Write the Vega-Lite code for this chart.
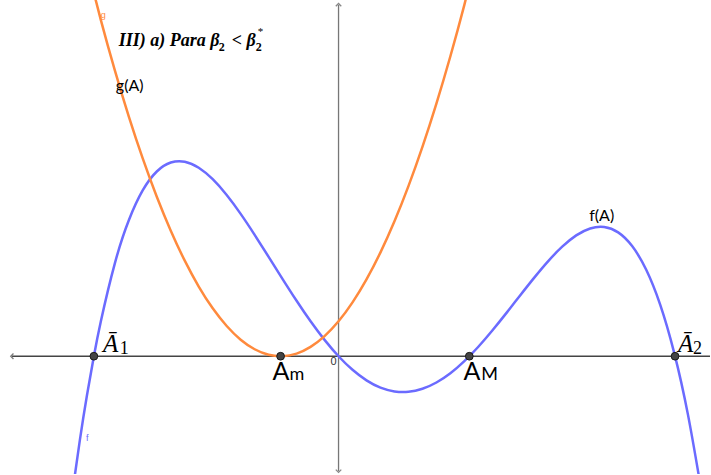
{
  "$schema": "https://vega.github.io/schema/vega-lite/v6.json",
  "width": 711,
  "height": 475,
  "autosize": {"type": "fit", "contains": "padding"},
  "padding": 0,
  "background": "white",
  "config": {"view": {"stroke": null}},
  "datasets": {
    "axes": [
      {"axis": "x", "x": -4.67, "x2": 5.314, "y": 0, "y2": 0},
      {"axis": "y", "x": 0, "x2": 0, "y": -1.643, "y2": 5.03}
    ],
    "ticks": [
      {"axis": "x", "v": -4}, {"axis": "x", "v": -3}, {"axis": "x", "v": -2}, {"axis": "x", "v": -1},
      {"axis": "x", "v": 1}, {"axis": "x", "v": 2}, {"axis": "x", "v": 3}, {"axis": "x", "v": 4}, {"axis": "x", "v": 5},
      {"axis": "y", "v": -1}, {"axis": "y", "v": 1}, {"axis": "y", "v": 2}, {"axis": "y", "v": 3}, {"axis": "y", "v": 4}
    ],
    "arrows": [
      {"dir": "left", "x": -4.67, "y": 0},
      {"dir": "up", "x": 0, "y": 5.03},
      {"dir": "down", "x": 0, "y": -1.643}
    ],
    "curves": [
      {"series": "f", "x": -3.8, "y": -1.899},
      {"series": "f", "x": -3.7, "y": -1.197},
      {"series": "f", "x": -3.6, "y": -0.565},
      {"series": "f", "x": -3.5, "y": 0},
      {"series": "f", "x": -3.4, "y": 0.502},
      {"series": "f", "x": -3.2, "y": 1.33},
      {"series": "f", "x": -3.0, "y": 1.947},
      {"series": "f", "x": -2.8, "y": 2.377},
      {"series": "f", "x": -2.6, "y": 2.645},
      {"series": "f", "x": -2.4, "y": 2.773},
      {"series": "f", "x": -2.2, "y": 2.785},
      {"series": "f", "x": -2.0, "y": 2.698},
      {"series": "f", "x": -1.8, "y": 2.534},
      {"series": "f", "x": -1.6, "y": 2.308},
      {"series": "f", "x": -1.4, "y": 2.038},
      {"series": "f", "x": -1.2, "y": 1.738},
      {"series": "f", "x": -1.0, "y": 1.423},
      {"series": "f", "x": -0.8, "y": 1.105},
      {"series": "f", "x": -0.6, "y": 0.794},
      {"series": "f", "x": -0.4, "y": 0.5},
      {"series": "f", "x": -0.2, "y": 0.234},
      {"series": "f", "x": 0.0, "y": 0},
      {"series": "f", "x": 0.2, "y": -0.194},
      {"series": "f", "x": 0.4, "y": -0.345},
      {"series": "f", "x": 0.6, "y": -0.45},
      {"series": "f", "x": 0.8, "y": -0.504},
      {"series": "f", "x": 1.0, "y": -0.51},
      {"series": "f", "x": 1.2, "y": -0.466},
      {"series": "f", "x": 1.4, "y": -0.376},
      {"series": "f", "x": 1.6, "y": -0.243},
      {"series": "f", "x": 1.8, "y": -0.07},
      {"series": "f", "x": 2.0, "y": 0.136},
      {"series": "f", "x": 2.2, "y": 0.368},
      {"series": "f", "x": 2.4, "y": 0.617},
      {"series": "f", "x": 2.6, "y": 0.873},
      {"series": "f", "x": 2.8, "y": 1.125},
      {"series": "f", "x": 3.0, "y": 1.362},
      {"series": "f", "x": 3.2, "y": 1.568},
      {"series": "f", "x": 3.4, "y": 1.73},
      {"series": "f", "x": 3.6, "y": 1.829},
      {"series": "f", "x": 3.8, "y": 1.85},
      {"series": "f", "x": 4.0, "y": 1.773},
      {"series": "f", "x": 4.2, "y": 1.577},
      {"series": "f", "x": 4.4, "y": 1.241},
      {"series": "f", "x": 4.6, "y": 0.742},
      {"series": "f", "x": 4.8, "y": 0.056},
      {"series": "f", "x": 5.0, "y": -0.843},
      {"series": "f", "x": 5.2, "y": -1.982},
      {"series": "g", "x": -3.6, "y": 5.59},
      {"series": "g", "x": -3.4, "y": 4.812},
      {"series": "g", "x": -3.2, "y": 4.093},
      {"series": "g", "x": -3.0, "y": 3.431},
      {"series": "g", "x": -2.8, "y": 2.828},
      {"series": "g", "x": -2.6, "y": 2.283},
      {"series": "g", "x": -2.4, "y": 1.797},
      {"series": "g", "x": -2.2, "y": 1.368},
      {"series": "g", "x": -2.0, "y": 0.998},
      {"series": "g", "x": -1.8, "y": 0.686},
      {"series": "g", "x": -1.6, "y": 0.433},
      {"series": "g", "x": -1.4, "y": 0.237},
      {"series": "g", "x": -1.2, "y": 0.1},
      {"series": "g", "x": -1.0, "y": 0.021},
      {"series": "g", "x": -0.8, "y": 0.001},
      {"series": "g", "x": -0.6, "y": 0.038},
      {"series": "g", "x": -0.4, "y": 0.134},
      {"series": "g", "x": -0.2, "y": 0.288},
      {"series": "g", "x": 0.0, "y": 0.5},
      {"series": "g", "x": 0.2, "y": 0.771},
      {"series": "g", "x": 0.4, "y": 1.1},
      {"series": "g", "x": 0.6, "y": 1.487},
      {"series": "g", "x": 0.8, "y": 1.932},
      {"series": "g", "x": 1.0, "y": 2.435},
      {"series": "g", "x": 1.2, "y": 2.997},
      {"series": "g", "x": 1.4, "y": 3.617},
      {"series": "g", "x": 1.6, "y": 4.295},
      {"series": "g", "x": 1.8, "y": 5.031},
      {"series": "g", "x": 2.0, "y": 5.826}
    ],
    "points": [
      {"name": "A1", "x": -3.5, "y": 0},
      {"name": "Am", "x": -0.829, "y": 0},
      {"name": "AM", "x": 1.871, "y": 0},
      {"name": "A2", "x": 4.814, "y": 0}
    ],
    "labels": [
      {"kind": "serif", "text": "Ā", "x": -3.371, "y": 0.057},
      {"kind": "serif", "text": "Ā", "x": 4.857, "y": 0.057},
      {"kind": "serif_sub", "text": "1", "x": -3.129, "y": 0.029},
      {"kind": "serif_sub", "text": "2", "x": 5.071, "y": 0.029},
      {"kind": "sans", "text": "A", "x": -0.943, "y": -0.343},
      {"kind": "sans", "text": "A", "x": 1.786, "y": -0.343},
      {"kind": "sans_sub", "text": "m", "x": -0.7, "y": -0.343},
      {"kind": "sans_sub", "text": "M", "x": 2.043, "y": -0.343},
      {"kind": "name", "text": "g(A)", "x": -3.186, "y": 3.8},
      {"kind": "name", "text": "f(A)", "x": 3.586, "y": 1.943},
      {"kind": "origin", "text": "0", "x": -0.114, "y": -0.129},
      {"kind": "title", "text": "III) a) Para β", "x": -3.143, "y": 4.443},
      {"kind": "title", "text": "< β", "x": -1.529, "y": 4.443},
      {"kind": "title_sub", "text": "2", "x": -1.714, "y": 4.371},
      {"kind": "title_sub", "text": "2", "x": -1.186, "y": 4.371},
      {"kind": "title_sup", "text": "*", "x": -1.157, "y": 4.6}
    ],
    "tags": [
      {"series": "g", "text": "g", "x": -3.4, "y": 4.843},
      {"series": "f", "text": "f", "x": -3.614, "y": -1.214}
    ]
  },
  "encoding": {
    "x": {"field": "x", "type": "quantitative", "scale": {"domain": [-4.843, 5.314], "nice": false, "zero": false}, "axis": null},
    "y": {"field": "y", "type": "quantitative", "scale": {"domain": [-1.686, 5.1], "nice": false, "zero": false}, "axis": null}
  },
  "layer": [
    {
      "data": {"name": "axes"},
      "transform": [{"filter": "datum.axis === 'x'"}],
      "mark": {"type": "rule", "color": "#444444", "strokeWidth": 1.3},
      "encoding": {"x2": {"field": "x2"}, "y2": {"field": "y2"}}
    },
    {
      "data": {"name": "axes"},
      "transform": [{"filter": "datum.axis === 'y'"}],
      "mark": {"type": "rule", "color": "#777777", "strokeWidth": 1.3},
      "encoding": {"x2": {"field": "x2"}, "y2": {"field": "y2"}}
    },
    {
      "data": {"name": "ticks"},
      "transform": [{"filter": "datum.axis === 'x'"}],
      "mark": {"type": "rule", "color": "#444444", "strokeWidth": 1},
      "encoding": {"x": {"field": "v", "type": "quantitative"}, "y": {"datum": 0}, "y2": {"datum": -0.06}}
    },
    {
      "data": {"name": "ticks"},
      "transform": [{"filter": "datum.axis === 'y'"}],
      "mark": {"type": "rule", "color": "#777777", "strokeWidth": 1},
      "encoding": {"y": {"field": "v", "type": "quantitative"}, "x": {"datum": -0.06}, "x2": {"datum": 0}}
    },
    {
      "data": {"name": "arrows"},
      "transform": [{"filter": "datum.dir === 'left'"}],
      "mark": {"type": "point", "shape": "M0.5,-1L-0.5,0L0.5,1", "filled": false, "stroke": "#444444", "strokeWidth": 1.3, "size": 30}
    },
    {
      "data": {"name": "arrows"},
      "transform": [{"filter": "datum.dir === 'up'"}],
      "mark": {"type": "point", "shape": "M-1,0.5L0,-0.5L1,0.5", "filled": false, "stroke": "#555555", "strokeWidth": 1.3, "size": 30}
    },
    {
      "data": {"name": "arrows"},
      "transform": [{"filter": "datum.dir === 'down'"}],
      "mark": {"type": "point", "shape": "M-1,-0.5L0,0.5L1,-0.5", "filled": false, "stroke": "#555555", "strokeWidth": 1.3, "size": 30}
    },
    {
      "data": {"name": "curves"},
      "mark": {"type": "line", "interpolate": "natural", "strokeWidth": 2.5, "clip": true},
      "encoding": {
        "color": {"field": "series", "type": "nominal", "scale": {"domain": ["f", "g"], "range": ["#6b6bff", "#ff8a3d"]}, "legend": null},
        "order": {"field": "x", "type": "quantitative"}
      }
    },
    {
      "data": {"name": "points"},
      "mark": {"type": "point", "filled": true, "fill": "#444444", "stroke": "#1a1a1a", "strokeWidth": 1, "size": 60, "opacity": 1}
    },
    {
      "data": {"name": "labels"},
      "transform": [{"filter": "datum.kind === 'serif'"}],
      "mark": {"type": "text", "align": "left", "baseline": "alphabetic", "font": "Liberation Serif", "fontStyle": "italic", "fontSize": 25, "color": "#000000"},
      "encoding": {"text": {"field": "text"}}
    },
    {
      "data": {"name": "labels"},
      "transform": [{"filter": "datum.kind === 'serif_sub'"}],
      "mark": {"type": "text", "align": "left", "baseline": "alphabetic", "font": "Liberation Serif", "fontSize": 18, "color": "#000000"},
      "encoding": {"text": {"field": "text"}}
    },
    {
      "data": {"name": "labels"},
      "transform": [{"filter": "datum.kind === 'sans'"}],
      "mark": {"type": "text", "align": "left", "baseline": "alphabetic", "font": "Lato", "fontSize": 25, "color": "#000000"},
      "encoding": {"text": {"field": "text"}}
    },
    {
      "data": {"name": "labels"},
      "transform": [{"filter": "datum.kind === 'sans_sub'"}],
      "mark": {"type": "text", "align": "left", "baseline": "alphabetic", "font": "Lato", "fontSize": 18, "color": "#000000"},
      "encoding": {"text": {"field": "text"}}
    },
    {
      "data": {"name": "labels"},
      "transform": [{"filter": "datum.kind === 'name'"}],
      "mark": {"type": "text", "align": "left", "baseline": "alphabetic", "font": "Lato", "fontSize": 16, "color": "#000000"},
      "encoding": {"text": {"field": "text"}}
    },
    {
      "data": {"name": "labels"},
      "transform": [{"filter": "datum.kind === 'origin'"}],
      "mark": {"type": "text", "align": "left", "baseline": "alphabetic", "font": "Liberation Sans", "fontSize": 11, "color": "#333333"},
      "encoding": {"text": {"field": "text"}}
    },
    {
      "data": {"name": "labels"},
      "transform": [{"filter": "datum.kind === 'title'"}],
      "mark": {"type": "text", "align": "left", "baseline": "alphabetic", "font": "Liberation Serif", "fontStyle": "italic", "fontWeight": "bold", "fontSize": 18, "color": "#000000"},
      "encoding": {"text": {"field": "text"}}
    },
    {
      "data": {"name": "labels"},
      "transform": [{"filter": "datum.kind === 'title_sub'"}],
      "mark": {"type": "text", "align": "left", "baseline": "alphabetic", "font": "Liberation Serif", "fontWeight": "bold", "fontSize": 12, "color": "#000000"},
      "encoding": {"text": {"field": "text"}}
    },
    {
      "data": {"name": "labels"},
      "transform": [{"filter": "datum.kind === 'title_sup'"}],
      "mark": {"type": "text", "align": "left", "baseline": "alphabetic", "font": "Liberation Serif", "fontSize": 11, "color": "#000000"},
      "encoding": {"text": {"field": "text"}}
    },
    {
      "data": {"name": "tags"},
      "mark": {"type": "text", "align": "left", "baseline": "alphabetic", "font": "Liberation Sans", "fontSize": 9},
      "encoding": {
        "text": {"field": "text"},
        "color": {"field": "series", "type": "nominal", "scale": {"domain": ["f", "g"], "range": ["#6b6bff", "#ff8a3d"]}, "legend": null}
      }
    }
  ]
}
